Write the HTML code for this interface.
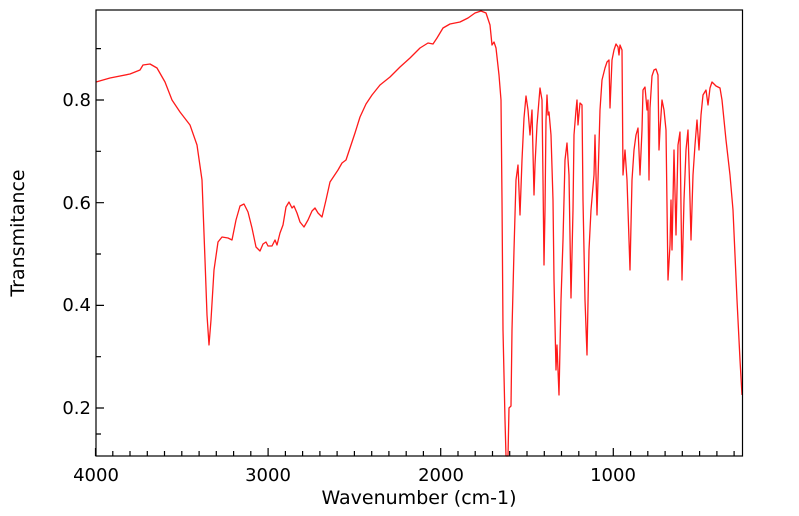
<!DOCTYPE html>
<html><head><style>body{margin:0;background:#fff}svg{display:block}text{font-family:"DejaVu Sans","Liberation Sans",sans-serif;font-size:18px;fill:#000}</style></head><body>
<svg width="799" height="516" viewBox="0 0 799 516" xmlns="http://www.w3.org/2000/svg">
<rect x="0" y="0" width="799" height="516" fill="#fff"/>
<g stroke="#000" stroke-width="1.2" fill="none">
<path d="M95.5 456V448M268.1 456V448M440.7 456V448M613.3 456V448"/>
<path d="M112.8 456V451M130 456V451M147.3 456V451M164.5 456V451M181.8 456V451M199.1 456V451M216.3 456V451M233.6 456V451M250.8 456V451M285.4 456V451M302.6 456V451M319.9 456V451M337.1 456V451M354.4 456V451M371.7 456V451M388.9 456V451M406.2 456V451M423.4 456V451M458 456V451M475.2 456V451M492.5 456V451M509.7 456V451M527 456V451M544.3 456V451M561.5 456V451M578.8 456V451M596 456V451M630.6 456V451M647.8 456V451M665.1 456V451M682.3 456V451M699.6 456V451M716.9 456V451M734.1 456V451"/>
<path d="M96 100H104M96 202.7H104M96 305.4H104M96 408H104"/>
<path d="M96 48.6H101M96 151.3H101M96 254H101M96 356.7H101M96 434H101"/>
</g>
<polyline fill="none" stroke="#ff1a1a" stroke-width="1.3" stroke-linejoin="round" points="96,82 110,78 130,74 140,70 143,65 150,64 157,68 165,82 172,100 180,112 190,125 197,145 202,180 205,260 207,315 209,345 211,320 214,270 218,242 222,237 228,238 232,240 236,220 240,206 244,204 248,212 252,228 256,247 260,251 263,244 266,242 268,246 272,246 275,240 277,245 280,233 283,225 286,207 289,202 292,208 294,206 297,213 300,222 304,227 308,220 312,211 315,208 318,213 322,217 326,200 330,182 334,176 338,170 342,163 346,160 350,148 355,133 360,117 366,104 372,95 380,85 390,77 400,67 410,58 420,48 428,43 433,44 437,38 443,28 450,24 460,22 468,18 475,13 481,11 486,13 490,25 492,45 494,42 496,48 499,75 501,100 502,200 503,330 505,420 506,456 508,456 509,408 511,406 512,330 514,250 516,180 518,165 520,215 522,160 524,118 526,96 528,110 530,135 532,110 534,195 535,165 537,125 539,100 540,88 542,100 543,180 544,265 545,210 546,120 547,95 548,115 549,112 551,135 553,200 554,280 556,370 557,345 559,395 561,300 563,240 565,160 567,143 569,175 571,298 573,210 574,135 576,110 577,100 578,125 580,103 582,105 583,200 585,300 587,355 589,250 591,210 594,175 595,135 597,215 599,145 600,110 602,80 605,68 607,62 609,60 610,108 612,60 614,50 616,44 618,47 619,55 620,45 622,50 623,175 625,150 627,180 630,270 632,180 634,150 636,135 638,128 640,175 642,130 643,90 645,87 647,110 648,100 649,180 650,108 652,76 654,70 656,69 658,75 659,150 660,130 662,100 664,110 666,130 668,280 670,245 671,200 672,250 673,200 674,150 676,235 678,145 680,132 682,280 684,200 686,150 688,130 690,200 691,240 693,175 695,145 697,120 699,150 701,115 703,95 706,90 708,105 710,88 712,82 716,86 720,88 722,100 726,140 730,175 733,210 735,255 737,300 740,360 742,395"/>
<rect x="96" y="10" width="646.5" height="446" fill="none" stroke="#000" stroke-width="1.2"/>
<text x="96" y="481" text-anchor="middle">4000</text>
<text x="268" y="481" text-anchor="middle">3000</text>
<text x="441" y="481" text-anchor="middle">2000</text>
<text x="613" y="481" text-anchor="middle">1000</text>
<text x="91" y="106" text-anchor="end">0.8</text>
<text x="91" y="209" text-anchor="end">0.6</text>
<text x="91" y="311" text-anchor="end">0.4</text>
<text x="91" y="414" text-anchor="end">0.2</text>
<text x="419" y="504" text-anchor="middle" style="font-size:19px">Wavenumber (cm-1)</text>
<text x="0" y="0" text-anchor="middle" style="font-size:19px" transform="translate(24,233) rotate(-90)">Transmitance</text>
</svg>
</body></html>
